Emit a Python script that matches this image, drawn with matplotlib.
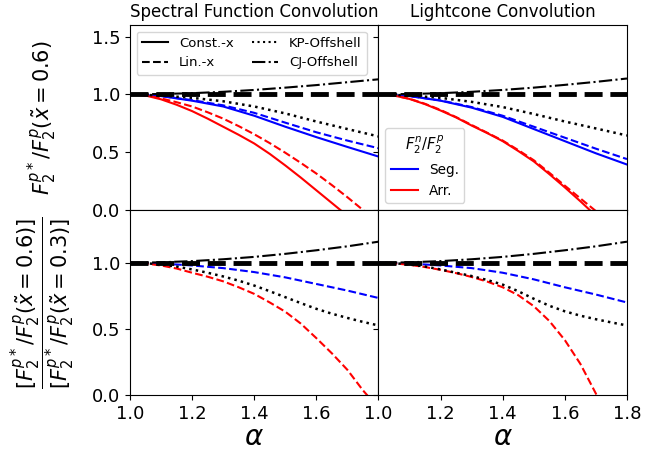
import numpy as np
import matplotlib.pyplot as plt
from matplotlib.lines import Line2D

alpha = [1.0, 1.1, 1.2, 1.3, 1.4, 1.5, 1.6, 1.7, 1.8]
alpha_fine = [1.0, 1.05, 1.1, 1.15, 1.2, 1.25, 1.3, 1.35, 1.4,
              1.45, 1.5, 1.55, 1.6, 1.65, 1.7, 1.75, 1.8]
one = 1.0

# top row: F2p*/F2p at x~ = 0.6
sf_cj = [1.0, 1.003, 1.01, 1.022, 1.038, 1.058, 1.08, 1.105, 1.13]
sf_kp = [1.0, 0.99, 0.97, 0.94, 0.895, 0.835, 0.765, 0.70, 0.636]
sf_seg_const = [1.0, 0.985, 0.945, 0.895, 0.815, 0.72, 0.63, 0.545, 0.462]
sf_seg_lin = [1.0, 0.985, 0.95, 0.905, 0.84, 0.755, 0.672, 0.60, 0.534]
sf_arr_const = [1.0, 0.99, 0.957, 0.91, 0.855, 0.79, 0.72, 0.65, 0.575,
                0.485, 0.385, 0.28, 0.17, 0.06, -0.05, -0.165, -0.28]
sf_arr_lin = [1.0, 0.992, 0.965, 0.932, 0.895, 0.845, 0.79, 0.725, 0.655,
              0.578, 0.495, 0.407, 0.315, 0.215, 0.11, 0.0, -0.12]

lc_cj = [1.0, 1.003, 1.01, 1.022, 1.038, 1.058, 1.082, 1.108, 1.137]
lc_kp = [1.0, 0.99, 0.97, 0.935, 0.89, 0.83, 0.765, 0.705, 0.644]
lc_seg_const = [1.0, 0.985, 0.945, 0.885, 0.805, 0.70, 0.595, 0.49, 0.393]
lc_seg_lin = [1.0, 0.985, 0.948, 0.89, 0.815, 0.72, 0.625, 0.53, 0.44]
lc_arr_const = [1.0, 0.99, 0.96, 0.915, 0.86, 0.80, 0.73, 0.665, 0.595,
                0.51, 0.42, 0.31, 0.195, 0.075, -0.05, -0.175, -0.3]
lc_arr_lin = [1.0, 0.99, 0.962, 0.918, 0.865, 0.803, 0.735, 0.668, 0.60,
              0.518, 0.43, 0.322, 0.21, 0.10, -0.01, -0.13, -0.25]

# bottom row: ratio x~=0.6 / x~=0.3
sf_r_cj = [1.0, 1.004, 1.013, 1.027, 1.045, 1.068, 1.095, 1.125, 1.16]
sf_r_kp = [1.0, 0.997, 0.988, 0.972, 0.95, 0.925, 0.897, 0.865, 0.828,
           0.785, 0.74, 0.695, 0.652, 0.615, 0.583, 0.553, 0.526]
sf_r_seg_lin = [1.0, 0.995, 0.98, 0.96, 0.93, 0.89, 0.84, 0.79, 0.734]
sf_r_arr_lin = [1.0, 0.995, 0.98, 0.957, 0.925, 0.895, 0.86, 0.815, 0.765,
                0.70, 0.63, 0.54, 0.43, 0.315, 0.19, 0.035, -0.1]

lc_r_cj = [1.0, 1.004, 1.013, 1.027, 1.045, 1.068, 1.095, 1.125, 1.16]
lc_r_kp = [1.0, 0.997, 0.988, 0.972, 0.95, 0.925, 0.9, 0.87, 0.835,
           0.785, 0.728, 0.675, 0.633, 0.60, 0.573, 0.549, 0.526]
lc_r_seg_lin = [1.0, 0.995, 0.98, 0.96, 0.925, 0.875, 0.815, 0.76, 0.70]
lc_r_arr_lin = [1.0, 0.996, 0.985, 0.968, 0.947, 0.922, 0.893, 0.858, 0.815,
                0.755, 0.672, 0.56, 0.415, 0.235, 0.01, -0.27, -0.6]

fig, axes = plt.subplots(2, 2, figsize=(6.68, 4.54), dpi=100,
                         sharex='col', sharey='row')
fig.subplots_adjust(left=0.1946, right=0.9386, top=0.945, bottom=0.130,
                    wspace=0, hspace=0)

lw = 1.5
top = [(axes[0, 0], sf_seg_const, sf_seg_lin, sf_arr_const, sf_arr_lin, sf_kp, sf_cj),
       (axes[0, 1], lc_seg_const, lc_seg_lin, lc_arr_const, lc_arr_lin, lc_kp, lc_cj)]
for ax, sc, sl, ac, al, kp, cj in top:
    ax.plot(alpha, sc, color='blue', lw=lw)
    ax.plot(alpha, sl, color='blue', lw=lw, ls='--')
    ax.plot(alpha_fine, ac, color='red', lw=lw)
    ax.plot(alpha_fine, al, color='red', lw=lw, ls='--')
    ax.plot(alpha, kp, color='black', lw=1.8, ls=':')
    ax.plot(alpha, cj, color='black', lw=lw, ls='-.')
    ax.axhline(one, color='black', lw=3.5, ls='--')

bottom = [(axes[1, 0], sf_r_seg_lin, sf_r_arr_lin, sf_r_kp, sf_r_cj),
          (axes[1, 1], lc_r_seg_lin, lc_r_arr_lin, lc_r_kp, lc_r_cj)]
for ax, sl, al, kp, cj in bottom:
    ax.plot(alpha, sl, color='blue', lw=lw, ls='--')
    ax.plot(alpha_fine, al, color='red', lw=lw, ls='--')
    ax.plot(alpha_fine, kp, color='black', lw=1.8, ls=':')
    ax.plot(alpha, cj, color='black', lw=lw, ls='-.')
    ax.axhline(one, color='black', lw=3.5, ls='--')

axes[0, 0].set_ylim(0, 1.6)
axes[0, 0].set_yticks([0.0, 0.5, 1.0, 1.5])
axes[1, 0].set_ylim(0, 1.4)
axes[1, 0].set_yticks([0.0, 0.5, 1.0])
axes[1, 0].set_xlim(1.0, 1.8)
axes[1, 0].set_xticks([1.0, 1.2, 1.4, 1.6])
axes[1, 1].set_xlim(1.0, 1.8)
axes[1, 1].set_xticks([1.0, 1.2, 1.4, 1.6, 1.8])
for ax in axes.flat:
    ax.tick_params(labelsize=13)

axes[0, 0].set_title('Spectral Function Convolution', fontsize=12)
axes[0, 1].set_title('Lightcone Convolution', fontsize=12)
for ax in axes[1]:
    ax.set_xlabel(r'$\alpha$', fontsize=20, labelpad=0)

axes[0, 0].set_ylabel(r'$F_2^{p*}/F_2^p(\tilde{x}=0.6)$', fontsize=15, va='center')
axes[1, 0].set_ylabel(r'$\dfrac{[F_2^{p*}/F_2^p(\tilde{x}=0.6)]}{[F_2^{p*}/F_2^p(\tilde{x}=0.3)]}$',
                      fontsize=15, va='center')
axes[0, 0].yaxis.set_label_coords(-0.351, 0.5)
axes[1, 0].yaxis.set_label_coords(-0.351, 0.5)

style_handles = [Line2D([], [], color='black', lw=lw, ls='-', label='Const.-x'),
                 Line2D([], [], color='black', lw=lw, ls='--', label='Lin.-x'),
                 Line2D([], [], color='black', lw=lw, ls=':', label='KP-Offshell'),
                 Line2D([], [], color='black', lw=lw, ls='-.', label='CJ-Offshell')]
axes[0, 0].legend(handles=style_handles, ncol=2, loc='upper left', fontsize=9.5,
                  columnspacing=1.4)

model_handles = [Line2D([], [], color='blue', lw=lw, label='Seg.'),
                 Line2D([], [], color='red', lw=lw, label='Arr.')]
axes[0, 1].legend(handles=model_handles, title=r'$F_2^n/F_2^p$', loc='lower left',
                  fontsize=9.8, title_fontsize=10.5)

fig.savefig('out.png', dpi=100)
